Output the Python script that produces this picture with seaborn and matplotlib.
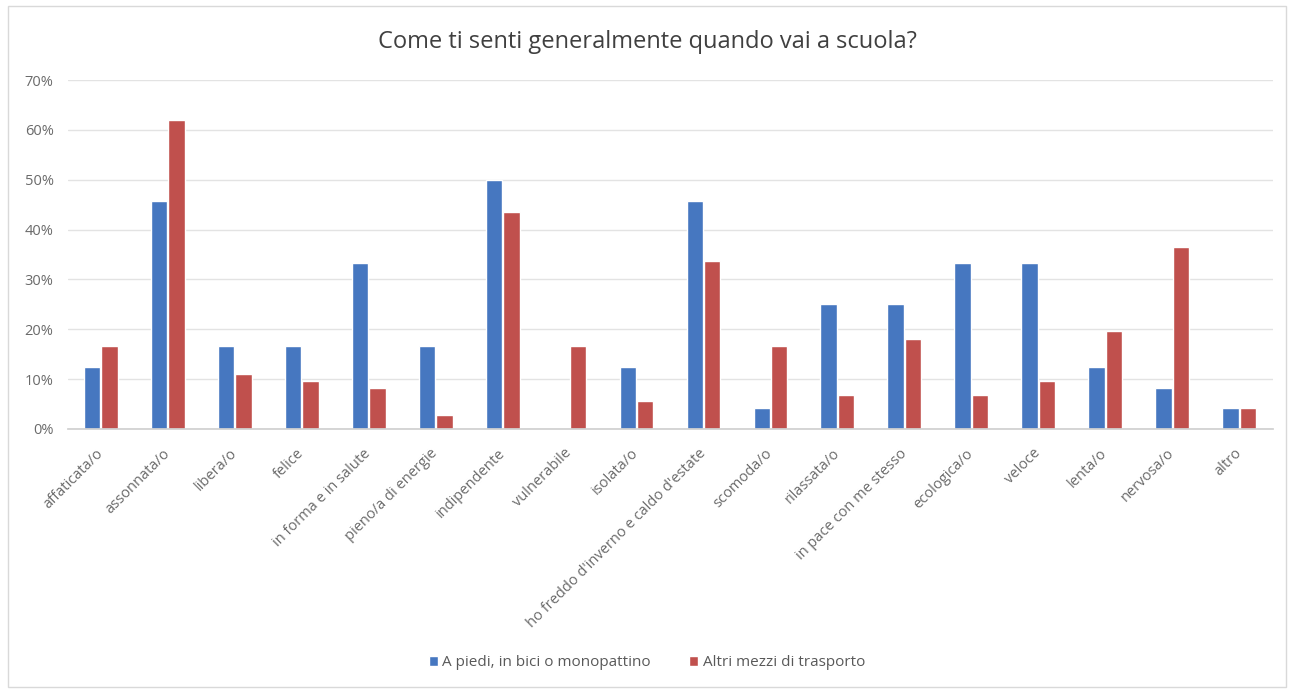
import pandas as pd
import seaborn as sns
import matplotlib.pyplot as plt
from matplotlib.patches import Rectangle
from matplotlib.ticker import PercentFormatter

categories = ['affaticata/o', 'assonnata/o', 'libera/o', 'felice', 'in forma e in salute',
              'pieno/a di energie', 'indipendente', 'vulnerabile', 'isolata/o',
              "ho freddo d'inverno e caldo d'estate", 'scomoda/o', 'rilassata/o',
              'in pace con me stesso', 'ecologica/o', 'veloce', 'lenta/o', 'nervosa/o', 'altro']
a_piedi = [12.5, 45.8, 16.7, 16.7, 33.3, 16.7, 50.0, 0.0, 12.5, 45.8, 4.2, 25.0, 25.0, 33.3, 33.3, 12.5, 8.3, 4.2]
altri_mezzi = [16.7, 61.9, 11.1, 9.7, 8.3, 2.8, 43.5, 16.7, 5.6, 33.6, 16.7, 6.9, 18.1, 6.9, 9.7, 19.6, 36.6, 4.2]
series = ['A piedi, in bici o monopattino', 'Altri mezzi di trasporto']
colors = ['#4677C0', '#C0504D']

df = pd.DataFrame({
    'categoria': categories * 2,
    'valore': a_piedi + altri_mezzi,
    'serie': [series[0]] * len(categories) + [series[1]] * len(categories),
})

sns.set_theme(style='white')
plt.rcParams['font.family'] = ['Open Sans', 'DejaVu Sans']

fig = plt.figure(figsize=(12.94, 6.91), dpi=100)
ax = fig.add_axes([67.5 / 1294, 1 - 429 / 691, 1205 / 1294, 349 / 691])

sns.barplot(data=df, x='categoria', y='valore', hue='serie', palette=colors,
            saturation=1, width=0.52, gap=0.06, ax=ax, legend=True)

ax.set_ylim(0, 70)
ax.set_yticks(range(0, 71, 10))
ax.yaxis.set_major_formatter(PercentFormatter(decimals=0))
ax.grid(axis='y', color='#e3e3e3', linewidth=1)
ax.set_axisbelow(True)
for s in ['top', 'right', 'left']:
    ax.spines[s].set_visible(False)
ax.spines['bottom'].set_color('#d0d0d0')
ax.set_xlabel('')
ax.set_ylabel('')
ax.tick_params(axis='both', length=0, colors='#6a6a6a')
ax.tick_params(axis='x', labelsize=10.5, pad=16)
ax.tick_params(axis='y', labelsize=10.5, pad=10)
plt.setp(ax.get_xticklabels(), rotation=45, ha='right', va='center', rotation_mode='anchor')

fig.text(0.5, 1 - 42 / 691, 'Come ti senti generalmente quando vai a scuola?',
         ha='center', va='center', fontsize=17, color='#404040')

handles, labels = ax.get_legend_handles_labels()
ax.get_legend().remove()
fig.legend(handles, labels, loc='center', bbox_to_anchor=(0.5, 1 - 663 / 691), ncol=2,
           frameon=False, fontsize=11, labelcolor='#595959', handlelength=0.6,
           handleheight=0.6, handletextpad=0.3, columnspacing=2.5)

fig.patches.append(Rectangle((0.006, 0.006), 0.988, 0.986, transform=fig.transFigure,
                             fill=False, edgecolor='#d9d9d9', linewidth=1))

fig.savefig('out.png', dpi=100, facecolor='white')
